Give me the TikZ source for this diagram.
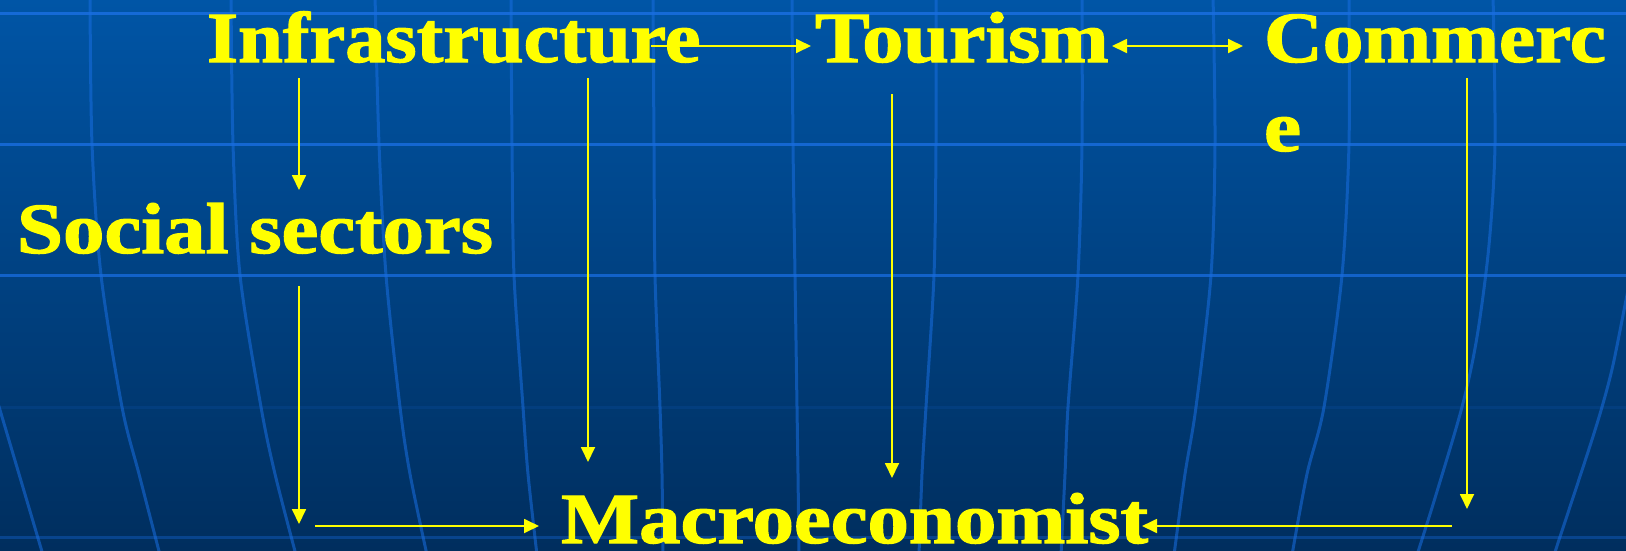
\documentclass[tikz,border=0pt]{standalone}
\usepackage{fontspec}
\setmainfont{Liberation Serif}[BoldFeatures={FakeBold=1.6}]
\usetikzlibrary{arrows.meta,calc}
\definecolor{bgtop}{RGB}{0,85,166}
\definecolor{bgbot}{RGB}{0,46,94}
\definecolor{gridc}{RGB}{25,110,225}
\definecolor{txt}{RGB}{255,255,0}
\begin{document}
\begin{tikzpicture}[x=1pt,y=-1pt,
  >={Triangle[length=15pt,width=14pt]},
  lbl/.style={inner sep=0pt, outer sep=0pt, anchor=base west, text=txt,
    font=\bfseries\fontsize{72}{80}\selectfont},
  conn/.style={draw=txt, line width=1.8pt, ->},
  hgrid/.style={draw=gridc, line width=3pt},
  vgrid/.style={draw=gridc, line width=3pt, opacity=0.55}]
\shade[top color=bgtop, bottom color=bgbot] (0,0) rectangle (1626,550);
\useasboundingbox (0,0) rectangle (1626,550);
\begin{scope}
\clip (0,0) rectangle (1626,550);
% horizontal grid
\draw[hgrid, opacity=0.85] (0,13) -- (1626,13);
\draw[hgrid, opacity=0.8] (0,144) -- (1626,144);
\draw[hgrid, opacity=0.75] (0,275) -- (1626,275);
\draw[hgrid, opacity=0.12] (0,407) -- (1626,407);
\draw[hgrid, opacity=0.35] (0,537) -- (1626,537);
% meridians
\draw[vgrid] plot[smooth] coordinates {(90,-5) (92,144) (101,275) (122,407) (139,474) (160,555)};
\draw[vgrid] plot[smooth] coordinates {(231,-5) (233,144) (240,275) (261,407) (275,474) (296,555)};
\draw[vgrid] plot[smooth] coordinates {(375,-5) (379,144) (386,275) (400,407) (410,474) (427,555)};
\draw[vgrid] plot[smooth] coordinates {(511,-5) (512,144) (514,275) (523,407) (528,474) (537,555)};
\draw[vgrid] plot[smooth] coordinates {(-3,400) (0,410) (19,474) (43,555)};
\draw[vgrid] plot[smooth] coordinates {(653,-5) (654,144) (655,275) (660,407) (662,474) (663,555)};
\draw[vgrid] plot[smooth] coordinates {(792,-5) (793,144) (795,275) (797,407) (798,474) (799,555)};
\draw[vgrid] plot[smooth] coordinates {(936,-5) (936,144) (934,275) (926,407) (922,474) (919,555)};
\draw[vgrid] plot[smooth] coordinates {(1082,-5) (1082,144) (1078,275) (1068,407) (1065,474) (1061,555)};
\draw[vgrid] plot[smooth] coordinates {(1213,-5) (1215,144) (1211,275) (1196,407) (1185,474) (1174,555)};
\draw[vgrid] plot[smooth] coordinates {(1349,-5) (1349,144) (1342,275) (1324,407) (1307,474) (1292,555)};
\draw[vgrid] plot[smooth] coordinates {(1493,-5) (1495,144) (1489,245) (1477,337) (1462,407) (1435,498) (1417,555)};
\draw[vgrid] plot[smooth] coordinates {(1632,270) (1626,300) (1613,365) (1602,407) (1588,452) (1554,555)};
\end{scope}
% labels
\node[lbl] (infra) at (207,62) {\scalebox{1.115}[1]{Infrastructure}};
\node[lbl] (tour) at (815,62) {\scalebox{1.14}[1]{Tourism}};
\node[lbl] (comm) at (1264,62) {\scalebox{1.13}[1]{Commerc}};
\node[lbl] (comme) at (1264,151) {\scalebox{1.16}[1]{e}};
\node[lbl] (social) at (17,253) {\scalebox{1.15}[1]{Social sectors}};
\node[lbl] (macro) at (561,543) {\scalebox{1.15}[1]{Macroeconomist}};
% free ends
\coordinate (sdrop) at ($(macro.base west)+(-262,-19)$);
\coordinate (sturn) at ($(macro.base west)+(-246,-17)$);
\coordinate (cdrop) at ($(comm.base west)+(203,447)$);
\coordinate (cturn) at ($(comm.base west)+(188,464)$);
% connectors
\draw[conn] ($(infra.base west)+(444,-16)$) -- ($(tour.base west)+(-4,-16)$);
\draw[conn, <->] ($(tour.base west)+(297,-16)$) -- ($(comm.base west)+(-21,-16)$);
\draw[conn] ($(infra.base west)+(92,16)$) -- ($(social.base west)+(282,-63)$);
\draw[conn] ($(social.base west)+(282,33)$) -- (sdrop);
\draw[conn] (sturn) -- ($(macro.base west)+(-22,-17)$);
\draw[conn] ($(infra.base west)+(381,16)$) -- ($(macro.base west)+(27,-81)$);
\draw[conn] ($(tour.base west)+(77,32)$) -- ($(macro.base west)+(331,-65)$);
\draw[conn] ($(comm.base west)+(203,16)$) -- (cdrop);
\draw[conn] (cturn) -- ($(macro.base west)+(581,-17)$);
\end{tikzpicture}
\end{document}
